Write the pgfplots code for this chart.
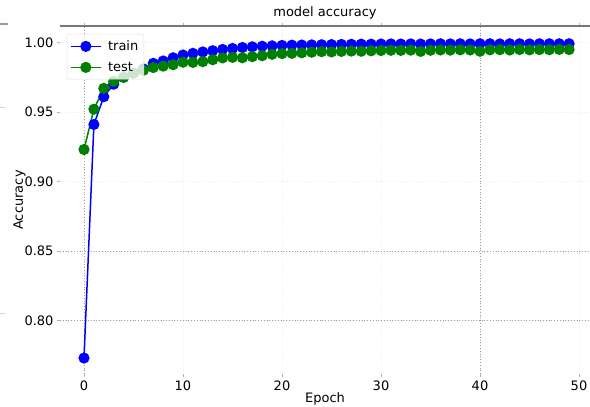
\documentclass[border=0pt]{standalone}
\usepackage{fontspec}
\setmainfont{DejaVu Sans}
\usepackage{pgfplots}
\usepackage{pgfplotstable}
\pgfplotsset{compat=1.18}
\definecolor{mplblue}{RGB}{0,0,255}
\definecolor{mplgreen}{RGB}{0,128,0}
\definecolor{spinegray}{RGB}{120,120,120}

\pgfplotstableread{
epoch train
0 0.773
1 0.941
2 0.961
3 0.970
4 0.975
5 0.978
6 0.981
7 0.985
8 0.9867
9 0.989
10 0.991
11 0.9922
12 0.9932
13 0.9941
14 0.9950
15 0.9957
16 0.9964
17 0.9969
18 0.9973
19 0.9976
20 0.9979
21 0.9981
22 0.9982
23 0.9983
24 0.9984
25 0.9985
26 0.9986
27 0.9987
28 0.9988
29 0.9988
30 0.9989
31 0.9990
32 0.9989
33 0.9990
34 0.9989
35 0.9990
36 0.9991
37 0.9990
38 0.9991
39 0.9990
40 0.9991
41 0.9991
42 0.9990
43 0.9991
44 0.9991
45 0.9990
46 0.9991
47 0.9991
48 0.9991
49 0.9991
}\traindata

\pgfplotstableread{
epoch test
0 0.923
1 0.952
2 0.967
3 0.972
4 0.975
5 0.978
6 0.980
7 0.982
8 0.983
9 0.984
10 0.9858
11 0.9857
12 0.9862
13 0.9876
14 0.9889
15 0.9893
16 0.9890
17 0.9898
18 0.9905
19 0.9915
20 0.9920
21 0.9922
22 0.9926
23 0.9930
24 0.9934
25 0.9932
26 0.9936
27 0.9938
28 0.9937
29 0.9940
30 0.9942
31 0.9944
32 0.9943
33 0.9945
34 0.9936
35 0.9944
36 0.9946
37 0.9945
38 0.9947
39 0.9946
40 0.9937
41 0.9947
42 0.9948
43 0.9946
44 0.9949
45 0.9947
46 0.9949
47 0.9948
48 0.9950
49 0.9949
}\testdata

\begin{document}
\begin{tikzpicture}
\begin{axis}[
  scale only axis,
  width=530bp, height=348bp,
  xmin=-2.424, xmax=51.11,
  ymin=0.7615, ymax=1.01187,
  font=\fontsize{13bp}{15.5bp}\selectfont,
  /pgf/number format/assume math mode=true,
  axis line style={draw=none},
  xtick={0,10,20,30,40,50},
  ytick={0.80,0.85,0.90,0.95,1.00},
  yticklabel style={/pgf/number format/.cd,fixed,fixed zerofill,precision=2},
  tick align=outside,
  major tick length=3bp,
  tick style={draw=gray!60, line width=0.6bp},
  grid=major,
  major grid style={draw=gray!12, dotted, line width=0.8bp},
  extra x ticks={0,40},
  extra x tick labels={},
  extra y ticks={0.80,0.85},
  extra y tick labels={},
  extra tick style={grid=major, major grid style={draw=gray!75, dotted, line width=0.8bp}},
  xlabel={Epoch},
  ylabel={Accuracy},
  xlabel style={yshift=11bp},
  ylabel style={yshift=-14bp},
  title={model accuracy},
  title style={at={(0.5,1)}, anchor=south, inner sep=1bp, yshift=0bp},
  legend style={at={(0.013,0.977)}, anchor=north west,
    fill=white, fill opacity=0.8, draw=gray!25, text opacity=1,
    rounded corners=2bp, inner xsep=3bp, inner ysep=4bp,
    row sep=5bp, font=\fontsize{13bp}{15.5bp}\selectfont,
    nodes={inner sep=2.5bp}},
  legend cell align=left,
  legend image code/.code={
    \draw[opacity=1, fill opacity=1, line width=1.5bp, mark repeat=2,mark phase=2] plot coordinates {(0bp,0bp) (15bp,0bp) (30bp,0bp)};
  },
]
\addplot[color=mplblue, line width=1.5bp, mark=*, mark size=4.8bp,
  mark options={fill=mplblue, draw=mplblue}] table[x=epoch, y=train] {\traindata};
\addlegendentry{\hspace{4bp}train}
\addplot[color=mplgreen, line width=1.5bp, mark=*, mark size=4.8bp,
  mark options={fill=mplgreen, draw=mplgreen}] table[x=epoch, y=test] {\testdata};
\addlegendentry{\hspace{4bp}test}
\draw[spinegray, line width=1.6bp] (rel axis cs:0,1) -- (rel axis cs:1,1);
\end{axis}
\draw[gray!80, line width=1.5bp] (-60bp,350bp) -- (-52bp,350bp);
\draw[gray!35, line width=0.8bp] (-60bp,267bp) -- (-55bp,267bp);
\draw[gray!35, line width=0.8bp] (-60bp,61bp) -- (-55bp,61bp);
\pgfresetboundingbox
\path[use as bounding box] (-60bp,-33bp) rectangle (530bp,374bp);
\end{tikzpicture}
\end{document}
